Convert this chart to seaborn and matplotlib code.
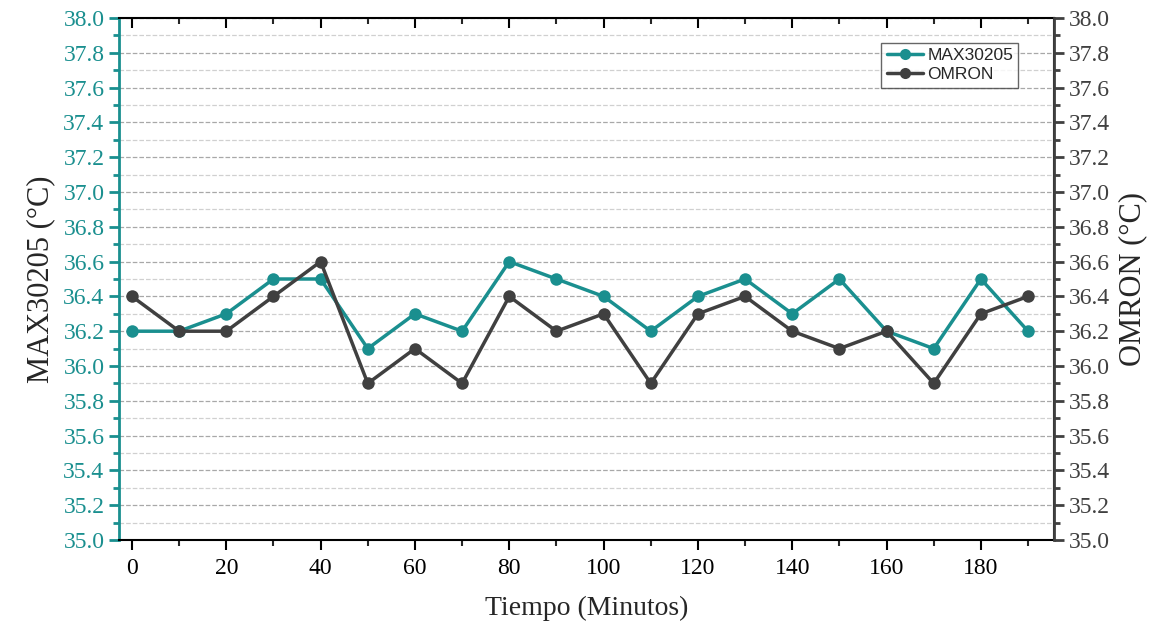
import numpy as np
import pandas as pd
import seaborn as sns
import matplotlib.pyplot as plt
from matplotlib.ticker import MultipleLocator
from matplotlib.lines import Line2D

sns.set_style('white')
plt.rcParams['font.family'] = ['Liberation Serif', 'DejaVu Serif']

# datos
tiempo = [0, 10, 20, 30, 40, 50, 60, 70, 80, 90, 100, 110, 120, 130, 140, 150, 160, 170, 180, 190]
max30205 = [36.2, 36.2, 36.3, 36.5, 36.5, 36.1, 36.3, 36.2, 36.6, 36.5,
            36.4, 36.2, 36.4, 36.5, 36.3, 36.5, 36.2, 36.1, 36.5, 36.2]
omron = [36.4, 36.2, 36.2, 36.4, 36.6, 35.9, 36.1, 35.9, 36.4, 36.2,
         36.3, 35.9, 36.3, 36.4, 36.2, 36.1, 36.2, 35.9, 36.3, 36.4]

df = pd.DataFrame({'Tiempo': tiempo, 'MAX30205': max30205, 'OMRON': omron})

teal = '#1a8f8f'
gris = '#404040'

fig = plt.figure(figsize=(11.49, 6.28), dpi=100)
ax = fig.add_axes([119 / 1149, 1 - 540 / 628, (1054 - 119) / 1149, (540 - 18) / 628])
ax2 = ax.twinx()

sns.lineplot(data=df, x='Tiempo', y='MAX30205', ax=ax, color=teal, linewidth=2.5,
             marker='o', markersize=9, markeredgewidth=0, zorder=3)
sns.lineplot(data=df, x='Tiempo', y='OMRON', ax=ax2, color=gris, linewidth=2.5,
             marker='o', markersize=9, markeredgewidth=0, zorder=3)

for a in (ax, ax2):
    a.set_ylim(35.0, 38.0)
    a.yaxis.set_major_locator(MultipleLocator(0.2))
    a.yaxis.set_minor_locator(MultipleLocator(0.1))
    a.yaxis.set_major_formatter(plt.FormatStrFormatter('%.1f'))
ax.set_xlim(-2.75, 195.5)
ax.xaxis.set_major_locator(MultipleLocator(20))
ax.xaxis.set_minor_locator(MultipleLocator(10))

# rejilla discontinua
ax.grid(True, which='major', axis='y', linestyle='--', color='#a8a8a8', linewidth=0.9)
ax.grid(True, which='minor', axis='y', linestyle='--', color='#d0d0d0', linewidth=0.9)
ax.set_axisbelow(True)

for s in ax.spines.values():
    s.set_linewidth(1.5)
    s.set_color('black')
ax.spines['left'].set_color(teal)
ax.spines['left'].set_linewidth(2)
ax2.spines['right'].set_color(gris)
ax2.spines['right'].set_linewidth(2)
ax2.spines['left'].set_visible(False)
ax2.spines['top'].set_visible(False)
ax2.spines['bottom'].set_visible(False)

ax.tick_params(axis='x', which='major', direction='out', length=7, width=1.5,
               colors='black', labelsize=17, bottom=True, top=True, labeltop=False, pad=6)
ax.tick_params(axis='x', which='minor', direction='out', length=4, width=1.5,
               bottom=True, top=True)
ax.tick_params(axis='y', which='major', direction='out', length=7, width=2,
               color=teal, labelcolor=teal, labelsize=17, left=True)
ax.tick_params(axis='y', which='minor', direction='out', length=4, width=2,
               color=teal, left=True)
ax2.tick_params(axis='y', which='major', direction='out', length=7, width=2,
                color=gris, labelcolor=gris, labelsize=17, right=True)
ax2.tick_params(axis='y', which='minor', direction='out', length=4, width=2,
                color=gris, right=True)
# marcas superiores hacia dentro
for t in ax.xaxis.get_major_ticks() + ax.xaxis.get_minor_ticks():
    t.tick2line.set_marker(3)

ax.set_xlabel('Tiempo (Minutos)', fontsize=20, labelpad=12)
ax.set_ylabel('MAX30205 (°C)', fontsize=22, labelpad=6)
ax2.set_ylabel('OMRON (°C)', fontsize=22, labelpad=6)

handles = [Line2D([], [], color=teal, lw=2.5, marker='o', markersize=8, markeredgewidth=0),
           Line2D([], [], color=gris, lw=2.5, marker='o', markersize=8, markeredgewidth=0)]
leg = ax2.legend(handles, ['MAX30205', 'OMRON'], loc='upper right',
                 bbox_to_anchor=(0.962, 0.953), frameon=True, fancybox=False,
                 prop={'family': 'Liberation Sans', 'size': 12.5},
                 handlelength=2.1, borderpad=0.3, labelspacing=0.25, handletextpad=0.25,
                 borderaxespad=0)
leg.get_frame().set_edgecolor('#404040')
leg.get_frame().set_linewidth(1)

plt.savefig('out.png', dpi=100)
